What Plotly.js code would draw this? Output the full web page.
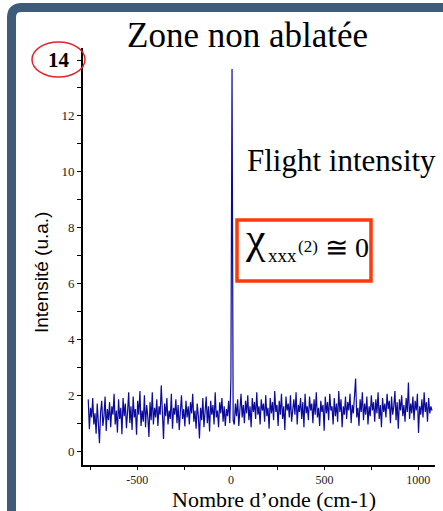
<!DOCTYPE html>
<html>
<head>
<meta charset="utf-8">
<script src="https://cdn.plot.ly/plotly-3.0.1.min.js"></script>
<style>
  html, body { margin: 0; padding: 0; background: #ffffff; }
  #chart { width: 443px; height: 511px; }
</style>
</head>
<body>
<div id="chart"></div>
<script>
// ---- data ----
const wavenumberStart = -762;   // cm-1, first sample
const wavenumberStep = 6;       // cm-1 between samples
const intensity = [
  1.85,0.78,1.55,1.20,1.90,0.95,1.35,0.62,1.70,1.05,
  0.28,1.40,1.80,0.90,1.25,1.95,0.72,1.50,1.10,1.75,
  0.85,1.60,1.30,2.05,0.95,1.45,0.66,1.85,1.15,1.55,
  0.60,1.90,1.25,1.70,0.82,1.40,2.10,1.00,1.60,0.75,
  1.95,1.20,1.50,0.58,1.80,1.30,2.15,0.90,1.45,1.05,
  2.00,0.85,1.65,1.25,0.50,1.75,1.10,2.10,0.95,1.55,
  1.20,1.85,0.90,1.60,1.30,2.35,1.05,0.43,1.70,1.25,
  1.90,0.95,1.45,1.15,2.05,0.80,1.55,1.30,1.85,1.00,
  1.65,0.75,1.40,2.00,1.15,1.50,0.88,1.80,1.20,1.60,
  0.95,1.75,1.35,2.05,1.05,1.45,0.80,1.70,1.25,0.45,
  1.55,1.10,1.90,0.85,1.40,1.95,1.00,1.60,0.70,1.80,
  1.30,1.65,0.95,2.10,1.20,1.45,0.85,1.75,1.35,1.90,
  1.05,1.60,0.90,1.50,1.25,1.80,1.00,
  2.60,13.68,1.10,
  0.95,1.70,1.25,1.85,0.90,1.55,2.05,1.20,1.65,1.00,
  1.80,1.35,2.00,1.10,1.60,0.85,1.90,1.40,1.75,1.15,
  2.10,1.30,1.60,0.95,1.85,1.45,1.70,1.05,2.00,1.25,
  1.55,0.80,1.90,1.35,1.75,1.10,2.15,1.40,1.65,0.90,
  1.80,1.30,2.05,1.15,1.60,0.75,1.95,1.45,1.70,1.20,
  2.00,1.05,1.55,1.85,1.30,2.10,0.95,1.65,1.40,1.90,
  1.15,1.75,0.85,2.05,1.35,1.60,1.10,1.95,1.45,1.70,
  1.00,1.85,1.30,2.10,1.20,1.55,0.90,1.80,1.40,1.65,
  0.73,1.95,1.35,1.75,1.10,2.05,1.45,1.60,0.95,1.90,
  1.25,1.70,1.05,2.15,1.40,1.85,0.85,1.60,1.30,1.95,
  1.15,1.75,1.45,2.05,1.00,1.65,1.35,1.90,2.60,1.20,
  1.55,0.90,1.85,1.40,2.10,1.10,1.70,1.30,1.95,0.95,
  1.60,1.25,2.00,1.45,1.75,1.05,1.85,1.35,2.10,1.15,
  1.65,0.85,1.90,1.40,1.70,1.20,2.05,1.50,1.80,1.00,
  1.95,1.30,1.60,2.15,1.10,1.75,0.80,1.85,1.45,2.00,
  1.25,1.65,1.05,1.90,1.40,2.45,1.15,1.70,1.35,1.95,
  1.10,1.80,1.45,2.05,0.65,1.60,1.30,1.85,1.20,2.10,
  1.40,1.75,1.05,1.90,1.35,1.60,1.45
];
const xTickVals = [-500, 0, 500, 1000];
const xTickText = ['-500', '0', '500', '1000'];
const yTickVals = [0, 2, 4, 6, 8, 10, 12, 14];
const yTickText = ['0', '2', '4', '6', '8', '10', '12', ''];
const titleText = 'Zone non ablatée';
const xTitleText = 'Nombre d\u2019onde (cm-1)';
const yTitleText = 'Intensité (u.a.)';
const highlightTickText = '14';
const noteText = 'Flight intensity';

// ---- layout helpers (pixel -> paper) ----
const W = 443, H = 511;
const M = { l: 83, r: 8, t: 48, b: 46 };
const PW = W - M.l - M.r, PH = H - M.t - M.b;
const px = v => (v - M.l) / PW;
const py = v => (H - M.b - v) / PH;

const serif = 'Liberation Serif, Times New Roman, serif';
const sans = 'Liberation Sans, Arial, sans-serif';
const frameColor = '#3e5b79';

function ann(text, x, y, size, opts) {
  return Object.assign({
    text: text, xref: 'paper', yref: 'paper', x: px(x), y: py(y),
    xanchor: 'center', yanchor: 'middle', showarrow: false,
    font: { family: serif, size: size, color: '#000' }
  }, opts || {});
}

const trace = {
  type: 'scatter', mode: 'lines',
  x0: wavenumberStart, dx: wavenumberStep, y: intensity,
  line: { color: '#0a0a9c', width: 1.2 },
  hoverinfo: 'skip'
};

const r = 10;
const framePath = 'M ' + px(11.5) + ' ' + py(560) +
  ' L ' + px(11.5) + ' ' + py(7.5 + r) +
  ' Q ' + px(11.5) + ' ' + py(7.5) + ' ' + px(11.5 + r) + ' ' + py(7.5) +
  ' L ' + px(470) + ' ' + py(7.5);

const layout = {
  width: W, height: H,
  margin: M,
  paper_bgcolor: '#ffffff', plot_bgcolor: '#ffffff',
  showlegend: false,
  xaxis: {
    range: [-790, 1090], tickvals: xTickVals, ticktext: xTickText,
    ticks: 'outside', ticklen: 3, tickwidth: 1, tickcolor: '#000',
    minor: { dtick: 250, tick0: 0, ticks: 'outside', ticklen: 3, tickcolor: '#000', tickwidth: 1 },
    showline: true, linecolor: '#000', linewidth: 1.8,
    showgrid: false, zeroline: false,
    tickfont: { family: serif, size: 12, color: '#222' }
  },
  yaxis: {
    range: [-0.5, 14.43], tickvals: yTickVals, ticktext: yTickText,
    ticks: 'outside', ticklen: 4, tickwidth: 1, tickcolor: '#000',
    minor: { dtick: 1, tick0: 0, ticks: 'outside', ticklen: 4, tickcolor: '#000', tickwidth: 1 },
    showline: true, linecolor: '#000', linewidth: 1.8,
    showgrid: false, zeroline: false,
    tickfont: { family: serif, size: 13, color: '#222' }
  },
  shapes: [
    { type: 'path', xref: 'paper', yref: 'paper', path: framePath,
      line: { color: frameColor, width: 9 } },
    { type: 'circle', xref: 'paper', yref: 'paper',
      x0: px(32), x1: px(85), y0: py(77), y1: py(42),
      line: { color: '#e8202a', width: 1.5 } },
    { type: 'rect', xref: 'paper', yref: 'paper',
      x0: px(237), x1: px(371), y0: py(281), y1: py(220),
      fillcolor: '#ffffff', line: { color: '#ff3a0a', width: 3.5 } }
  ],
  annotations: [
    ann(titleText, 247, 36, 35),
    ann(noteText, 341, 160, 31),
    ann(xTitleText, 274, 514, 22, { yanchor: 'bottom' }),
    ann(yTitleText, 41, 273, 19, { textangle: -90, font: { family: sans, size: 19, color: '#000' } }),
    ann('<b>' + highlightTickText + '</b>', 59, 60, 21),
    ann('\u03C7', 255, 238, 44),
    ann('xxx', 282, 255, 19),
    ann('(2)', 308, 246, 17),
    ann('\u2245 0', 347, 247, 28)
  ]
};

Plotly.newPlot('chart', [trace], layout, { staticPlot: true, displayModeBar: false });
</script>
</body>
</html>
